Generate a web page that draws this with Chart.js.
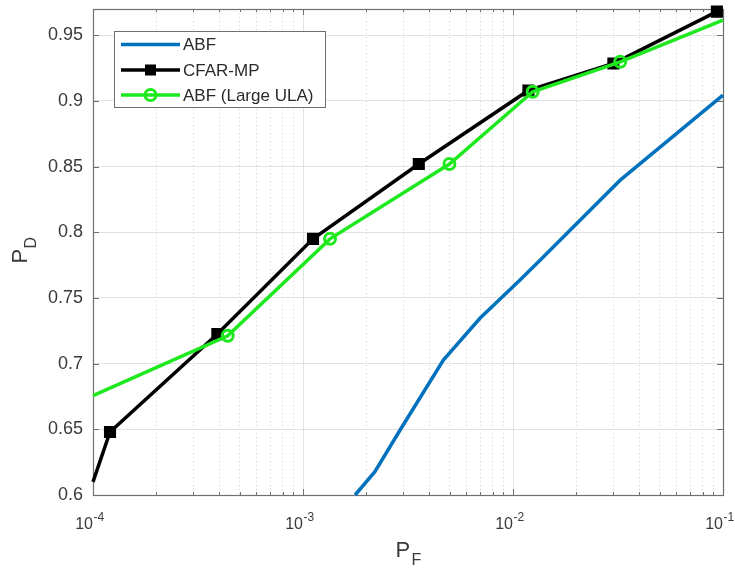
<!DOCTYPE html>
<html><head><meta charset="utf-8">
<script src="https://cdn.jsdelivr.net/npm/chart.js@4.4.1/dist/chart.umd.min.js"></script>
<style>html,body{margin:0;padding:0;background:#fff;}</style>
</head><body>
<canvas id="c" width="735" height="568"></canvas>
<script>
// ---- data ----
const seriesNames = ['ABF', 'CFAR-MP', 'ABF (Large ULA)'];
const abfX = [1.77e-3, 2.2e-3, 2.9e-3, 4.66e-3, 6.96e-3, 1.08e-2, 1.345e-2, 3.24e-2, 1e-1];
const abfY = [0.600, 0.6177, 0.6495, 0.7027, 0.7345, 0.7636, 0.7788, 0.8397, 0.9044];
const cfarX = [1e-4, 1.205e-4, 3.91e-4, 1.116e-3, 3.56e-3, 1.184e-2, 3.006e-2, 9.35e-2];
const cfarY = [0.610, 0.648, 0.7225, 0.795, 0.852, 0.908, 0.9285, 0.968];
const ulaX = [1e-4, 4.38e-4, 1.345e-3, 4.98e-3, 1.241e-2, 3.24e-2, 1e-1];
const ulaY = [0.6756, 0.7212, 0.795, 0.852, 0.907, 0.9298, 0.9615];
const xDecades = [1e-4, 1e-3, 1e-2, 1e-1];
const xDecadeExponents = ['-4', '-3', '-2', '-1'];
const yTicks = [0.6, 0.65, 0.7, 0.75, 0.8, 0.85, 0.9, 0.95];
const yTickLabels = ['0.6', '0.65', '0.7', '0.75', '0.8', '0.85', '0.9', '0.95'];
const xMin = 1e-4, xMax = 1e-1, yMin = 0.6, yMax = 0.97;
const xTitle = ['P', 'F'];
const yTitle = ['P', 'D'];

// ---- derived ----
const pts = (xs, ys) => xs.map((x, i) => ({x: x, y: ys[i]}));
const allXTicks = [];
const minorXTicks = [];
for (let d = 0; d < xDecades.length - 1; d++) {
  for (let k = 1; k <= 9; k++) {
    allXTicks.push(k * xDecades[d]);
    if (k > 1) minorXTicks.push(k * xDecades[d]);
  }
}
allXTicks.push(xDecades[xDecades.length - 1]);
const isDecade = v => xDecades.some(d => Math.abs(v / d - 1) < 1e-6);
const atEdge = (ctx) => {
  const r = ctx.raw; if (!r) return false;
  return Math.abs(r.x / xMin - 1) < 1e-6 || Math.abs(r.x / xMax - 1) < 1e-6;
};

const FONT = '"Liberation Sans", Arial, Helvetica, sans-serif';
const AX = '#6f6f6f';
const TXT = '#3a3a3a';
const BLUE = '#0072BD', BLACK = '#000000', GREEN = '#1ee81e';
const noPad = s => { s.paddingTop = 0; s.paddingBottom = 0; s.paddingLeft = 0; s.paddingRight = 0; };

const decor = {
  id: 'decor',
  beforeDatasetsDraw(chart) {
    const {ctx, chartArea: a} = chart;
    const xs = chart.scales.x, ys = chart.scales.y;
    ctx.save();
    ctx.strokeStyle = AX; ctx.lineWidth = 1;
    ctx.beginPath();
    allXTicks.forEach(v => {
      const px = Math.round(xs.getPixelForValue(v)) + 0.5;
      const L = isDecade(v) ? 6 : 3;
      ctx.moveTo(px, a.bottom); ctx.lineTo(px, a.bottom - L);
      ctx.moveTo(px, a.top); ctx.lineTo(px, a.top + L);
    });
    yTicks.forEach(v => {
      const py = Math.round(ys.getPixelForValue(v)) + 0.5;
      ctx.moveTo(a.left, py); ctx.lineTo(a.left + 6, py);
      ctx.moveTo(a.right, py); ctx.lineTo(a.right - 6, py);
    });
    ctx.stroke();
    ctx.lineWidth = 1.2;
    ctx.strokeRect(Math.round(a.left) + 0.5, Math.round(a.top) + 0.5, Math.round(a.right - a.left), Math.round(a.bottom - a.top));
    ctx.restore();
  },
  afterDraw(chart) {
    const {ctx, chartArea: a} = chart;
    const xs = chart.scales.x;
    ctx.save();
    ctx.fillStyle = TXT; ctx.textBaseline = 'alphabetic'; ctx.textAlign = 'left';
    xDecades.forEach((v, i) => {
      const px = xs.getPixelForValue(v);
      ctx.font = '16px ' + FONT;
      const w = ctx.measureText('10').width;
      ctx.fillText('10', px - w, a.bottom + 33.5);
      ctx.font = '12px ' + FONT;
      ctx.fillText(xDecadeExponents[i], px + 0.5, a.bottom + 25.5);
    });
    ctx.font = '22px ' + FONT;
    ctx.fillText(xTitle[0], 395.5, 557);
    ctx.font = '16px ' + FONT;
    ctx.fillText(xTitle[1], 411.5, 565);
    ctx.save();
    ctx.translate(27, 263.5);
    ctx.rotate(-Math.PI / 2);
    ctx.font = '22px ' + FONT;
    ctx.fillText(yTitle[0], 0, 0);
    ctx.font = '16px ' + FONT;
    ctx.fillText(yTitle[1], 15, 9);
    ctx.restore();

    // legend
    const bx = 114.5, by = 31.5, bw = 211, bh = 76;
    ctx.fillStyle = '#ffffff';
    ctx.fillRect(bx, by, bw, bh);
    ctx.strokeStyle = AX; ctx.lineWidth = 1;
    ctx.strokeRect(bx, by, bw, bh);
    const rows = [44.5, 70, 95];
    chart.data.datasets.forEach((ds, i) => {
      const y = rows[i];
      ctx.strokeStyle = ds.borderColor; ctx.lineWidth = ds.borderWidth;
      ctx.beginPath(); ctx.moveTo(121, y); ctx.lineTo(180, y); ctx.stroke();
      if (ds.legendMarker === 'rect') {
        ctx.fillStyle = ds.borderColor;
        ctx.fillRect(145, y - 5.5, 11, 11);
      } else if (ds.legendMarker === 'circle') {
        ctx.beginPath(); ctx.arc(150.5, y, 5.5, 0, Math.PI * 2);
        ctx.lineWidth = 3; ctx.stroke();
      }
      ctx.fillStyle = '#2a2a2a';
      ctx.font = '17px ' + FONT;
      ctx.textBaseline = 'middle';
      ctx.fillText(ds.label, 183, y + 1);
    });
    ctx.restore();
  }
};

new Chart(document.getElementById('c'), {
  type: 'line',
  data: {
    datasets: [
      {label: seriesNames[0], data: pts(abfX, abfY), borderColor: BLUE, borderWidth: 3.5, order: 2,
       pointRadius: 0, tension: 0, clip: false, legendMarker: 'none'},
      {label: seriesNames[1], data: pts(cfarX, cfarY), borderColor: BLACK, borderWidth: 3.5, order: 1,
       pointStyle: 'rect', pointRadius: ctx => atEdge(ctx) ? 0 : 7.5, pointBorderWidth: 1.5,
       pointBackgroundColor: BLACK, pointBorderColor: BLACK, tension: 0, clip: false, legendMarker: 'rect'},
      {label: seriesNames[2], data: pts(ulaX, ulaY), borderColor: GREEN, borderWidth: 3.5, order: 0,
       pointStyle: 'circle', pointRadius: ctx => atEdge(ctx) ? 0 : 5.5, pointBorderWidth: 3,
       pointBackgroundColor: 'rgba(0,0,0,0)', pointBorderColor: GREEN, tension: 0, clip: false, legendMarker: 'circle'}
    ]
  },
  options: {
    responsive: false, animation: false, devicePixelRatio: 1,
    layout: {padding: {left: 0, right: 12, top: 9, bottom: 0}},
    plugins: {legend: {display: false}, tooltip: {enabled: false}},
    scales: {
      x: {
        type: 'logarithmic', min: xMin, max: xMax, position: 'bottom',
        afterBuildTicks: s => { s.ticks = allXTicks.map(v => ({value: v, major: isDecade(v)})); },
        ticks: {display: false},
        grid: {color: c => (c.tick && isDecade(c.tick.value)) ? '#e2e2e2' : 'rgba(0,0,0,0)', drawTicks: false, lineWidth: 1},
        border: {display: false},
        afterFit: s => { s.height = 73; noPad(s); }
      },
      x2: {
        type: 'logarithmic', min: xMin, max: xMax, position: 'bottom',
        afterBuildTicks: s => { s.ticks = minorXTicks.map(v => ({value: v})); },
        ticks: {display: false},
        grid: {color: '#d0d0d0', drawTicks: false, lineWidth: 1},
        border: {display: false, dash: [1, 3]},
        afterFit: s => { s.height = 0; noPad(s); }
      },
      y: {
        min: yMin, max: yMax,
        afterBuildTicks: s => { s.ticks = yTicks.map(v => ({value: v})); },
        ticks: {
          callback: v => yTickLabels[yTicks.findIndex(t => Math.abs(t - v) < 1e-9)],
          font: {family: FONT, size: 18}, color: TXT, padding: 10
        },
        grid: {color: '#e2e2e2', drawTicks: false, lineWidth: 1},
        border: {display: false},
        afterFit: s => { s.width = 93; noPad(s); }
      }
    }
  },
  plugins: [decor]
});
</script>
</body></html>
